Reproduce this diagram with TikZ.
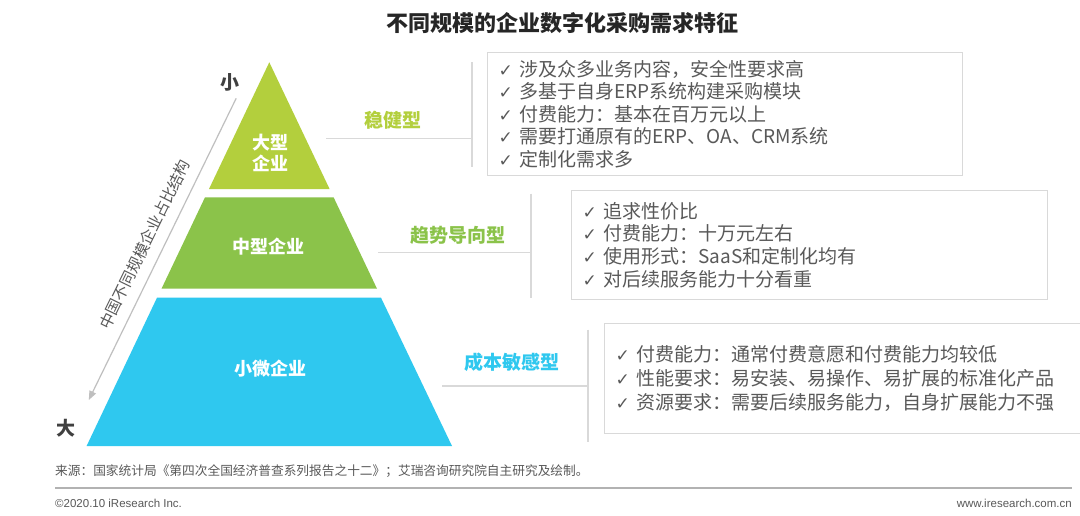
\documentclass[tikz,border=0pt]{standalone}
\usepackage{fontspec}
\usetikzlibrary{arrows.meta}
\setmainfont{Noto Sans CJK SC}
\newfontfamily\symfont{DejaVu Sans}
\newfontfamily\latfont{Liberation Sans}
\definecolor{topgreen}{HTML}{B3CF3D}
\definecolor{midgreen}{HTML}{8BC34A}
\definecolor{lowblue}{HTML}{2FC8EF}
\definecolor{textgray}{HTML}{595959}
\definecolor{linegray}{HTML}{D9D9D9}
\newcommand\chk{\makebox[21pt][l]{\symfont\fontsize{17}{17}\selectfont ✓}}
\tikzset{
  tier/.style={text=white, font=\bfseries\fontsize{18}{21}\selectfont, align=center},
  kind/.style={font=\bfseries\fontsize{19}{19}\selectfont},
  infobox/.style={draw=linegray, line width=1.2pt, anchor=north west, text width=#1,
    inner xsep=11pt, align=left, text=textgray},
  bracket/.style={draw=linegray, line width=1.2pt},
}
\begin{document}
\begin{tikzpicture}[x=1pt, y=-1pt]
  \useasboundingbox[fill=white] (0,0) rectangle (1080,515);
  \node[font=\bfseries\fontsize{22}{22}\selectfont, text=black!85] (title) at (562,23) {不同规模的企业数字化采购需求特征};

  % pyramid
  \fill[topgreen] (269.3,62.3) -- (329.6,189) -- (209,189) -- cycle;
  \fill[midgreen] (205,197.3) -- (333.6,197.3) -- (377,288.7) -- (161.5,288.7) -- cycle;
  \fill[lowblue] (157,297.7) -- (381,297.7) -- (452,446) -- (86.6,446) -- cycle;
  \node[tier] (large) at (270,152.5) {大型\\企业};
  \node[tier] (medium) at (268,247) {中型企业};
  \node[tier] (small) at (270,369) {小微企业};

  % share axis
  \node[font=\bfseries\fontsize{19}{19}\selectfont, text=black!75] (few) at (230,82) {小};
  \node[font=\bfseries\fontsize{19}{19}\selectfont, text=black!75] (many) at (66,428) {大};
  \coordinate (axtop) at (236.2,98.3);
  \coordinate (axbot) at (88.8,400);
  \draw[gray!50, line width=1.2pt, -{Triangle[length=9pt, width=7pt]}] (axtop) --
    node[pos=0.51, sloped, above, inner sep=10.5pt, text=textgray, font=\fontsize{15.5}{15.5}\selectfont] (axlabel) {中国不同规模企业占比结构} (axbot);

  % types
  \node[kind, text=topgreen] (robust) at (393,120) {稳健型};
  \node[kind, text=midgreen] (trend) at (458,235) {趋势导向型};
  \node[kind, text=lowblue] (cost) at (511.5,362) {成本敏感型};

  \coordinate (l1) at (326,138.3);  \coordinate (b1) at (472,138.3);
  \coordinate (b1n) at (472,62);    \coordinate (b1s) at (472,167);
  \coordinate (l2) at (378,252.3);  \coordinate (b2) at (531,252.3);
  \coordinate (b2n) at (531,193.5); \coordinate (b2s) at (531,297.5);
  \coordinate (l3) at (442,386);    \coordinate (b3) at (588,386);
  \coordinate (b3n) at (588,329.5); \coordinate (b3s) at (588,442);
  \draw[bracket] (l1) -- (b1);  \draw[bracket] (b1n) -- (b1s);
  \draw[bracket] (l2) -- (b2);  \draw[bracket] (b2n) -- (b2s);
  \draw[bracket] (l3) -- (b3);  \draw[bracket] (b3n) -- (b3s);

  % needs
  \node[infobox=453pt, minimum height=123pt, font=\fontsize{19}{22.5}\selectfont] (largebox) at (487,52)
    {\chk 涉及众多业务内容，安全性要求高\\
     \chk 多基于自身ERP系统构建采购模块\\
     \chk 付费能力：基本在百万元以上\\
     \chk 需要打通原有的ERP、OA、CRM系统\\
     \chk 定制化需求多};
  \node[infobox=454pt, minimum height=109pt, font=\fontsize{19}{22.7}\selectfont] (midbox) at (571,190)
    {\chk 追求性价比\\
     \chk 付费能力：十万元左右\\
     \chk 使用形式：SaaS和定制化均有\\
     \chk 对后续服务能力十分看重};
  \node[infobox=462pt, minimum height=110pt, font=\fontsize{19}{24}\selectfont] (smallbox) at (604,323)
    {\chk 付费能力：通常付费意愿和付费能力均较低\\
     \chk 性能要求：易安装、易操作、易扩展的标准化产品\\
     \chk 资源要求：需要后续服务能力，自身扩展能力不强};

  % footer
  \node[anchor=west, inner sep=0pt, text=textgray, font=\fontsize{12.7}{12.7}\selectfont] (source) at (55,471)
    {来源：国家统计局《第四次全国经济普查系列报告之十二》；艾瑞咨询研究院自主研究及绘制。};
  \coordinate (rulel) at (55,488); \coordinate (ruler) at (1072,488);
  \draw[gray!60, line width=2pt] (rulel) -- (ruler);
  \node[anchor=west, inner sep=0pt, text=textgray, font=\latfont\fontsize{11.5}{11.5}\selectfont] (copy) at (55,503) {©2020.10 iResearch Inc.};
  \node[anchor=east, inner sep=0pt, text=textgray, font=\latfont\fontsize{11.5}{11.5}\selectfont] (web) at (1072,503) {www.iresearch.com.cn};
\end{tikzpicture}
\end{document}
